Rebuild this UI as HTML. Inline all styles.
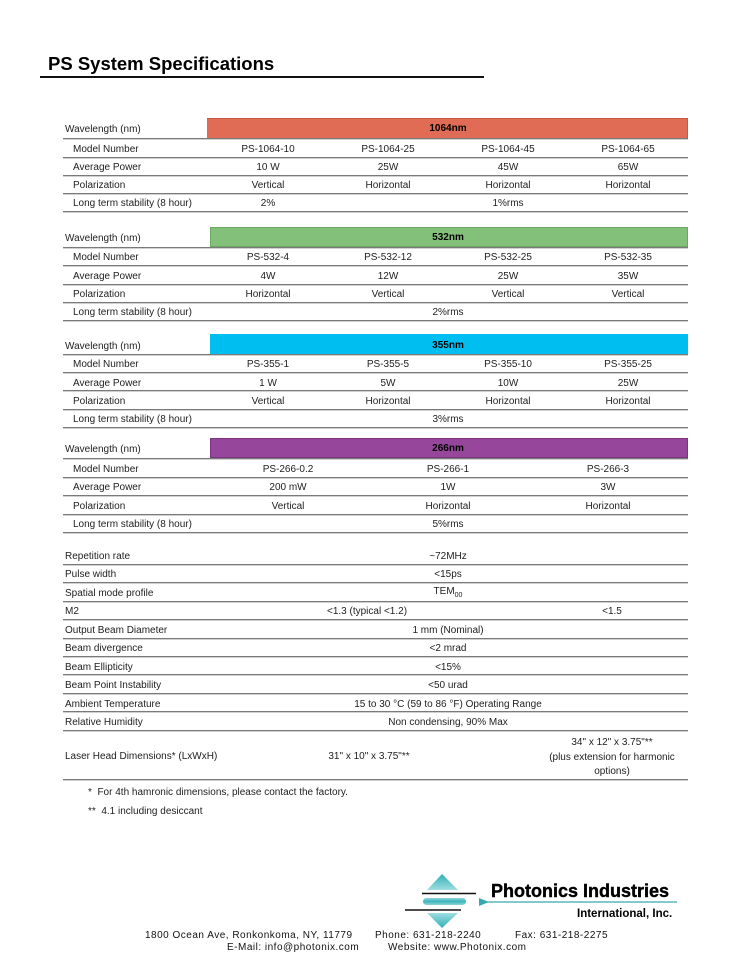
<!DOCTYPE html>
<html><head><meta charset="utf-8">
<style>
html,body{margin:0;padding:0;}
body{width:754px;height:976px;background:#fff;position:relative;overflow:hidden;font-family:"Liberation Sans",Arial,sans-serif;color:#1e1e1e;}
.c{position:absolute;font-size:10px;line-height:12px;white-space:nowrap;transform:translateX(-50%);margin-top:2px;}
.l{position:absolute;font-size:10px;line-height:12px;white-space:nowrap;margin-top:2px;}
.ln{position:absolute;left:63px;width:625px;height:1px;background:#7a7a7a;box-shadow:0 1px 0 #d0d0d0;}
.bar{position:absolute;height:20px;}
.b{font-weight:bold;color:#000;}
.f{position:absolute;font-size:10px;line-height:12px;white-space:nowrap;letter-spacing:0.5px;color:#111;}
</style></head>
<body>

<div class="l b" style="left:48px;top:53px;margin-top:0;font-size:18.5px;line-height:22px;">PS System Specifications</div>
<div style="position:absolute;left:40px;top:76px;width:444px;height:1.5px;background:#111;"></div>

<!-- 1064 -->
<div class="bar" style="left:207px;width:481px;top:118px;background:#e06c56;border-top:1px solid #c85a45;border-right:1px solid #c85a45;box-sizing:border-box;"></div>
<div class="c b" style="left:448px;top:121px;">1064nm</div>
<div class="l" style="left:65px;top:122px;">Wavelength (nm)</div>
<div class="ln" style="top:138px;"></div>
<div class="l" style="left:73px;top:142px;">Model Number</div>
<div class="c" style="left:268px;top:142px;">PS-1064-10</div>
<div class="c" style="left:388px;top:142px;">PS-1064-25</div>
<div class="c" style="left:508px;top:142px;">PS-1064-45</div>
<div class="c" style="left:628px;top:142px;">PS-1064-65</div>
<div class="ln" style="top:157px;"></div>
<div class="l" style="left:73px;top:160px;">Average Power</div>
<div class="c" style="left:268px;top:160px;">10 W</div>
<div class="c" style="left:388px;top:160px;">25W</div>
<div class="c" style="left:508px;top:160px;">45W</div>
<div class="c" style="left:628px;top:160px;">65W</div>
<div class="ln" style="top:175px;"></div>
<div class="l" style="left:73px;top:178px;">Polarization</div>
<div class="c" style="left:268px;top:178px;">Vertical</div>
<div class="c" style="left:388px;top:178px;">Horizontal</div>
<div class="c" style="left:508px;top:178px;">Horizontal</div>
<div class="c" style="left:628px;top:178px;">Horizontal</div>
<div class="ln" style="top:193px;"></div>
<div class="l" style="left:73px;top:196px;">Long term stability (8 hour)</div>
<div class="c" style="left:268px;top:196px;">2%</div>
<div class="c" style="left:508px;top:196px;">1%rms</div>
<div class="ln" style="top:211px;"></div>

<!-- 532 -->
<div class="bar" style="left:210px;width:478px;top:227px;background:#83c07a;border:1px solid #6aa862;box-sizing:border-box;"></div>
<div class="c b" style="left:448px;top:230px;">532nm</div>
<div class="l" style="left:65px;top:231px;">Wavelength (nm)</div>
<div class="ln" style="top:247px;"></div>
<div class="l" style="left:73px;top:250px;">Model Number</div>
<div class="c" style="left:268px;top:250px;">PS-532-4</div>
<div class="c" style="left:388px;top:250px;">PS-532-12</div>
<div class="c" style="left:508px;top:250px;">PS-532-25</div>
<div class="c" style="left:628px;top:250px;">PS-532-35</div>
<div class="ln" style="top:265px;"></div>
<div class="l" style="left:73px;top:269px;">Average Power</div>
<div class="c" style="left:268px;top:269px;">4W</div>
<div class="c" style="left:388px;top:269px;">12W</div>
<div class="c" style="left:508px;top:269px;">25W</div>
<div class="c" style="left:628px;top:269px;">35W</div>
<div class="ln" style="top:284px;"></div>
<div class="l" style="left:73px;top:287px;">Polarization</div>
<div class="c" style="left:268px;top:287px;">Horizontal</div>
<div class="c" style="left:388px;top:287px;">Vertical</div>
<div class="c" style="left:508px;top:287px;">Vertical</div>
<div class="c" style="left:628px;top:287px;">Vertical</div>
<div class="ln" style="top:302px;"></div>
<div class="l" style="left:73px;top:305px;">Long term stability (8 hour)</div>
<div class="c" style="left:448px;top:305px;">2%rms</div>
<div class="ln" style="top:320px;"></div>

<!-- 355 -->
<div class="bar" style="left:210px;width:478px;top:334px;background:#00bff0;"></div>
<div class="c b" style="left:448px;top:338px;">355nm</div>
<div class="l" style="left:65px;top:339px;">Wavelength (nm)</div>
<div class="ln" style="top:354px;"></div>
<div class="l" style="left:73px;top:357px;">Model Number</div>
<div class="c" style="left:268px;top:357px;">PS-355-1</div>
<div class="c" style="left:388px;top:357px;">PS-355-5</div>
<div class="c" style="left:508px;top:357px;">PS-355-10</div>
<div class="c" style="left:628px;top:357px;">PS-355-25</div>
<div class="ln" style="top:372px;"></div>
<div class="l" style="left:73px;top:376px;">Average Power</div>
<div class="c" style="left:268px;top:376px;">1 W</div>
<div class="c" style="left:388px;top:376px;">5W</div>
<div class="c" style="left:508px;top:376px;">10W</div>
<div class="c" style="left:628px;top:376px;">25W</div>
<div class="ln" style="top:390px;"></div>
<div class="l" style="left:73px;top:394px;">Polarization</div>
<div class="c" style="left:268px;top:394px;">Vertical</div>
<div class="c" style="left:388px;top:394px;">Horizontal</div>
<div class="c" style="left:508px;top:394px;">Horizontal</div>
<div class="c" style="left:628px;top:394px;">Horizontal</div>
<div class="ln" style="top:409px;"></div>
<div class="l" style="left:73px;top:412px;">Long term stability (8 hour)</div>
<div class="c" style="left:448px;top:412px;">3%rms</div>
<div class="ln" style="top:427px;"></div>

<!-- 266 -->
<div class="bar" style="left:210px;width:478px;top:438px;background:#96479b;border:1px solid #7d3282;box-sizing:border-box;"></div>
<div class="c b" style="left:448px;top:441px;">266nm</div>
<div class="l" style="left:65px;top:442px;">Wavelength (nm)</div>
<div class="ln" style="top:458px;"></div>
<div class="l" style="left:73px;top:462px;">Model Number</div>
<div class="c" style="left:288px;top:462px;">PS-266-0.2</div>
<div class="c" style="left:448px;top:462px;">PS-266-1</div>
<div class="c" style="left:608px;top:462px;">PS-266-3</div>
<div class="ln" style="top:477px;"></div>
<div class="l" style="left:73px;top:480px;">Average Power</div>
<div class="c" style="left:288px;top:480px;">200 mW</div>
<div class="c" style="left:448px;top:480px;">1W</div>
<div class="c" style="left:608px;top:480px;">3W</div>
<div class="ln" style="top:495px;"></div>
<div class="l" style="left:73px;top:499px;">Polarization</div>
<div class="c" style="left:288px;top:499px;">Vertical</div>
<div class="c" style="left:448px;top:499px;">Horizontal</div>
<div class="c" style="left:608px;top:499px;">Horizontal</div>
<div class="ln" style="top:514px;"></div>
<div class="l" style="left:73px;top:517px;">Long term stability (8 hour)</div>
<div class="c" style="left:448px;top:517px;">5%rms</div>
<div class="ln" style="top:532px;"></div>

<!-- general -->
<div class="l" style="left:65px;top:549px;">Repetition rate</div>
<div class="c" style="left:448px;top:549px;">~72MHz</div>
<div class="ln" style="top:564px;"></div>
<div class="l" style="left:65px;top:567px;">Pulse width</div>
<div class="c" style="left:448px;top:567px;">&lt;15ps</div>
<div class="ln" style="top:582px;"></div>
<div class="l" style="left:65px;top:586px;">Spatial mode profile</div>
<div class="c" style="left:448px;top:584px;">TEM<sub style="font-size:7px;vertical-align:-3px;">00</sub></div>
<div class="ln" style="top:601px;"></div>
<div class="l" style="left:65px;top:604px;">M2</div>
<div class="c" style="left:367px;top:604px;">&lt;1.3 (typical &lt;1.2)</div>
<div class="c" style="left:612px;top:604px;">&lt;1.5</div>
<div class="ln" style="top:619px;"></div>
<div class="l" style="left:65px;top:623px;">Output Beam Diameter</div>
<div class="c" style="left:448px;top:623px;">1 mm (Nominal)</div>
<div class="ln" style="top:638px;"></div>
<div class="l" style="left:65px;top:641px;">Beam divergence</div>
<div class="c" style="left:448px;top:641px;">&lt;2 mrad</div>
<div class="ln" style="top:656px;"></div>
<div class="l" style="left:65px;top:660px;">Beam Ellipticity</div>
<div class="c" style="left:448px;top:660px;">&lt;15%</div>
<div class="ln" style="top:674px;"></div>
<div class="l" style="left:65px;top:678px;">Beam Point Instability</div>
<div class="c" style="left:448px;top:678px;">&lt;50 urad</div>
<div class="ln" style="top:693px;"></div>
<div class="l" style="left:65px;top:697px;">Ambient Temperature</div>
<div class="c" style="left:448px;top:697px;">15 to 30 °C (59 to 86 °F) Operating Range</div>
<div class="ln" style="top:711px;"></div>
<div class="l" style="left:65px;top:715px;">Relative Humidity</div>
<div class="c" style="left:448px;top:715px;">Non condensing, 90% Max</div>
<div class="ln" style="top:730px;"></div>
<div class="l" style="left:65px;top:749px;">Laser Head Dimensions* (LxWxH)</div>
<div class="c" style="left:369px;top:749px;">31" x 10" x 3.75"**</div>
<div class="c" style="left:612px;top:735px;">34" x 12" x 3.75"**</div>
<div class="c" style="left:612px;top:750px;">(plus extension for harmonic</div>
<div class="c" style="left:612px;top:764px;">options)</div>
<div class="ln" style="top:779px;"></div>

<div class="l" style="left:88px;top:785px;">*&nbsp; For 4th hamronic dimensions, please contact the factory.</div>
<div class="l" style="left:88px;top:804px;">**&nbsp; 4.1 including desiccant</div>

<!-- logo -->
<svg style="position:absolute;left:0;top:0;" width="754" height="976" viewBox="0 0 754 976">
<defs>
<linearGradient id="g1" x1="0" y1="0" x2="0" y2="1"><stop offset="0" stop-color="#2fb0b8"/><stop offset="1" stop-color="#9fdde0"/></linearGradient>
<linearGradient id="g2" x1="0" y1="0" x2="0" y2="1"><stop offset="0" stop-color="#9fdde0"/><stop offset="1" stop-color="#2fb0b8"/></linearGradient>
<linearGradient id="g3" x1="0" y1="0" x2="0" y2="1"><stop offset="0" stop-color="#8fd6da"/><stop offset="0.5" stop-color="#3ab4bc"/><stop offset="1" stop-color="#8fd6da"/></linearGradient>
</defs>
<polygon points="442,874 427,890 458,890" fill="url(#g1)"/>
<line x1="422" y1="893.5" x2="476" y2="893.5" stroke="#111" stroke-width="1.5"/>
<rect x="423" y="898" width="43" height="7" rx="3.5" fill="url(#g3)"/>
<line x1="405" y1="910" x2="461" y2="910" stroke="#111" stroke-width="1.5"/>
<polygon points="427,913 458,913 442,928" fill="url(#g2)"/>
<line x1="484" y1="902" x2="677" y2="902" stroke="#3aa8b0" stroke-width="1.2"/>
<polygon points="479,898 479,906 489,902" fill="#3aa8b0"/>
<text x="491" y="897" font-family="Liberation Sans, Arial, sans-serif" font-weight="bold" font-size="18" fill="#000" stroke="#000" stroke-width="0.4">Photonics Industries</text>
<text x="577" y="917" font-family="Liberation Sans, Arial, sans-serif" font-weight="bold" font-size="11.5" fill="#000">International, Inc.</text>
</svg>

<div class="f" style="left:145px;top:930px;">1800 Ocean Ave, Ronkonkoma, NY, 11779</div>
<div class="f" style="left:375px;top:930px;">Phone: 631-218-2240</div>
<div class="f" style="left:515px;top:930px;">Fax: 631-218-2275</div>
<div class="f" style="left:227px;top:942px;">E-Mail: info@photonix.com</div>
<div class="f" style="left:388px;top:942px;">Website: www.Photonix.com</div>

</body></html>
